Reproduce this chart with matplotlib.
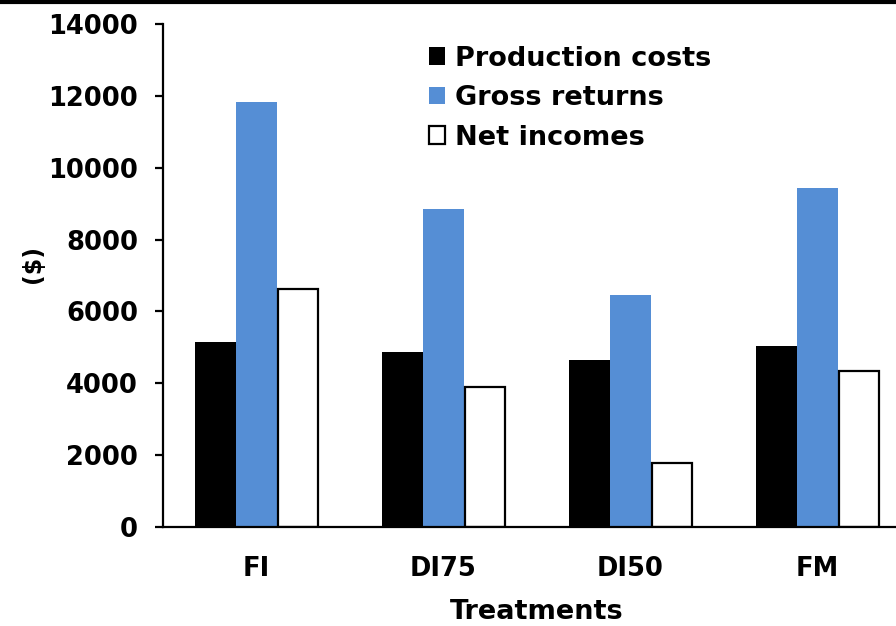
import matplotlib
matplotlib.use("Agg")
import matplotlib.pyplot as plt
import matplotlib.lines as mlines
import numpy as np

# ── Data ──────────────────────────────────────────────────────────────────────
treatments = ["FI", "DI75", "DI50", "FM"]
production_costs = [5150, 4870, 4650, 5040]
gross_returns = [11830, 8850, 6460, 9440]
net_incomes = [6620, 3900, 1780, 4340]

C_BLACK = "#000000"
C_BLUE = "#558ED5"

plt.rcParams.update({
    "font.family": "DejaVu Sans",
    "font.weight": "bold",
})

fig = plt.figure(figsize=(8.96, 6.26), dpi=100)
ax = fig.add_axes([0.1819, 0.1581, 0.8348, 0.8035])

x = np.arange(len(treatments))
w = 0.22
ax.bar(x - w, production_costs, w, color=C_BLACK, label="Production costs")
ax.bar(x, gross_returns, w, color=C_BLUE, label="Gross returns")
ax.bar(x + w, net_incomes, w * 0.97, color="white", edgecolor="black",
       linewidth=1.6, label="Net incomes")

ax.set_xlim(-0.5, 3.5)
ax.set_ylim(0, 14000)
ax.set_yticks(np.arange(0, 14001, 2000))
ax.set_xticks(x)
ax.set_xticklabels(treatments)

for side in ("top", "right"):
    ax.spines[side].set_visible(False)
for side in ("left", "bottom"):
    ax.spines[side].set_linewidth(1.6)

ax.tick_params(axis="y", length=6, width=1.6, labelsize=18.5, pad=12)
ax.tick_params(axis="x", length=0, labelsize=18.5, pad=21)

ax.set_xlabel("Treatments", fontsize=19.5, fontweight="bold", labelpad=12)
ax.set_ylabel("($)", fontsize=17, fontweight="bold")
ax.yaxis.set_label_coords(-0.158, 0.523)

ax.legend(loc="upper left", bbox_to_anchor=(0.33, 0.995), frameon=False,
          fontsize=19.5, handlelength=0.6, handleheight=0.6, handletextpad=0.35,
          labelspacing=0.5, borderaxespad=0.3)

# border line along the top edge of the figure
fig.add_artist(mlines.Line2D([0, 1], [0.997, 0.997], color="black",
                             linewidth=3, transform=fig.transFigure))

fig.savefig("out.png", dpi=100)
